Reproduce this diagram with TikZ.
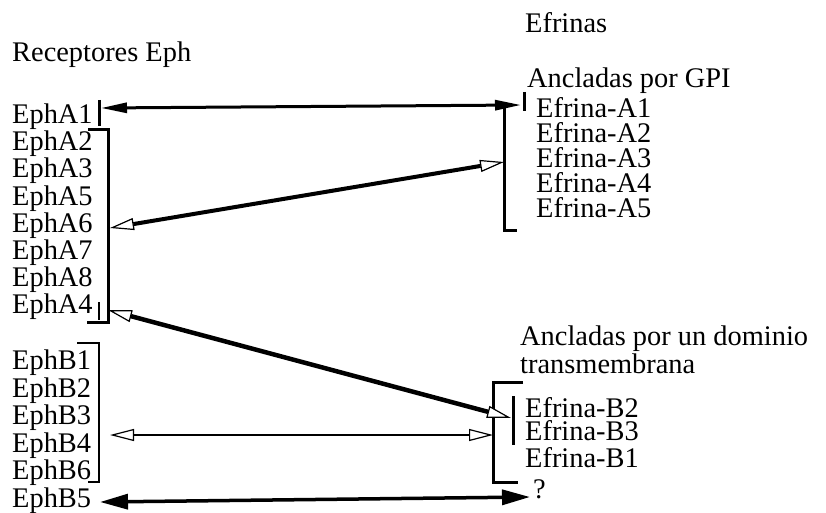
\documentclass[tikz,border=0pt]{standalone}
\usepackage{fontspec}
\setmainfont{Liberation Serif}
\usetikzlibrary{arrows.meta}
\tikzset{
  lbl/.style={anchor=base west, inner sep=0pt, font=\fontsize{28.4}{30}\selectfont},
  brk/.style={line width=3pt, line cap=butt, line join=miter},
  openhd/.style={{Triangle[length=24pt,width=12pt,fill=white,line width=1.2pt]}-{Triangle[length=24pt,width=12pt,fill=white,line width=1.2pt]}},
  solidhd/.style={{Triangle[length=28pt,width=15pt]}-{Triangle[length=28pt,width=15pt]}},
  thinsolid/.style={{Triangle[length=26pt,width=10pt]}-{Triangle[length=26pt,width=10pt]}}
}
\begin{document}
\begin{tikzpicture}[x=1pt,y=-1pt]
\useasboundingbox[fill=white] (0,0) rectangle (826,513);

% receptor column
\node[lbl] (rec) at (12,62) {Receptores Eph};
\foreach \n [count=\i from 0] in {A1,A2,A3,A5,A6,A7,A8,A4}
  \node[lbl] (Eph\n) at (12,124+27*\i) {Eph\n};
\foreach \n [count=\i from 0] in {B1,B2,B3,B4,B6,B5}
  \node[lbl] (Eph\n) at (12,369.5+27.5*\i) {Eph\n};

% ephrin column
\node[lbl] (efr) at (525,33) {Efrinas};
\node[lbl] (gpi) at (527,88) {Ancladas por GPI};
\foreach \n [count=\i from 0] in {A1,A2,A3,A4,A5}
  \node[lbl] (Ef\n) at (536,118+24.75*\i) {Efrina-\n};
\node[lbl] (tm1) at (520,345) {Ancladas por un dominio};
\node[lbl] (tm2) at (520,373) {transmembrana};
\node[lbl] (EfB2) at (525,417) {Efrina-B2};
\node[lbl] (EfB3) at (525,440) {Efrina-B3};
\node[lbl] (EfB1) at (525,467) {Efrina-B1};
\node[lbl] (unk) at (533,498) {?};

% brackets grouping the receptors
\draw[brk] (88,130) -- (108,130) -- (108,322) -- (87,322);
\draw[line width=3pt] (99,100) -- (99,126);
\draw[line width=2.5pt] (99,302) -- (99,320);
\draw[brk, line width=2.5pt] (77,343) -- (99,343) -- (99,482) -- (88,482);

% brackets grouping the ephrins
\draw[brk] (504,105) -- (504,230) -- (517,230);
\draw[line width=3pt] (524,92) -- (524,111);
\draw[brk] (523,382) -- (493,382) -- (493,482) -- (518,482);
\draw[line width=3pt] (513,396) -- (513,445);

% anchor points of the connectors
\coordinate (pA1) at (101,108);
\coordinate (qA1) at (521,105);
\coordinate (pA6) at (110,228);
\coordinate (qA3) at (504,162);
\coordinate (pA4) at (108,310);
\coordinate (qB2) at (511,418);
\coordinate (pB4) at (110,435);
\coordinate (qB3) at (493,435);
\coordinate (pB5) at (100,502);
\coordinate (qQ)  at (530,497);

% interactions
\draw[line width=3pt, thinsolid] (pA1) -- (qA1);
\draw[line width=4pt, openhd] (pA6) -- (qA3);
\draw[line width=4.5pt, openhd] (pA4) -- (qB2);
\draw[line width=1.5pt, openhd] (pB4) -- (qB3);
\draw[line width=3.5pt, solidhd] (pB5) -- (qQ);
\end{tikzpicture}
\end{document}
